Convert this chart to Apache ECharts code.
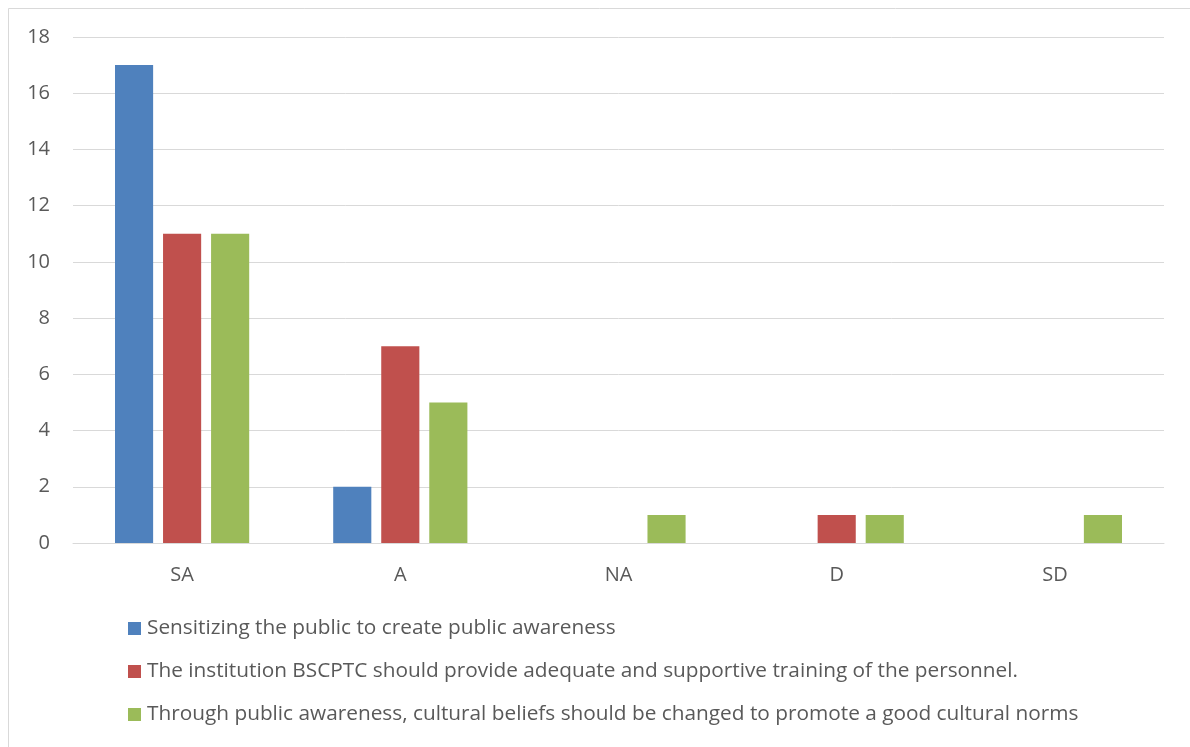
<!DOCTYPE html>
<html>
<head>
<meta charset="utf-8">
<script src="https://cdn.jsdelivr.net/npm/echarts@6/dist/echarts.min.js"></script>
<style>
  html, body { margin: 0; padding: 0; background: #fff; }
  #chart { width: 1190px; height: 747px; }
</style>
</head>
<body>
<div id="chart"></div>
<script>
// Response categories (Strongly Agree ... Strongly Disagree)
const categories = ['SA', 'A', 'NA', 'D', 'SD'];

const seriesNames = [
  'Sensitizing the public to create public awareness',
  'The institution BSCPTC should provide adequate and supportive training of the personnel.',
  'Through public awareness, cultural beliefs should be changed to promote a good cultural norms'
];

const sensitizing = [17, 2, 0, 0, 0];
const training = [11, 7, 0, 1, 0];
const culturalBeliefs = [11, 5, 1, 1, 1];

const yTicks = { min: 0, max: 18, interval: 2 };

const colors = ['#4f81bd', '#c0504d', '#9bbb59'];
const font = 'Open Sans, Noto Sans, sans-serif';
const textColor = '#595959';

const chart = echarts.init(document.getElementById('chart'));

const values = [sensitizing, training, culturalBeliefs];

chart.setOption({
  animation: false,
  backgroundColor: '#ffffff',
  color: colors,
  graphic: [{
    type: 'rect',
    shape: { x: 8.5, y: 8.5, width: 1200, height: 800 },
    style: { fill: 'none', stroke: '#d9d9d9', lineWidth: 1 },
    silent: true
  }],
  grid: { left: 73, right: 26, top: 37, bottom: 204, containLabel: false },
  legend: {
    orient: 'vertical',
    left: 123,
    top: 613,
    itemWidth: 13,
    itemHeight: 13,
    itemGap: 22,
    icon: 'rect',
    textStyle: {
      fontFamily: font, fontSize: 20.8, lineHeight: 21, color: textColor,
      padding: [0, 0, 0, 1]
    },
    data: seriesNames
  },
  xAxis: {
    type: 'category',
    data: categories,
    axisLine: { lineStyle: { color: '#d9d9d9', width: 1 } },
    axisTick: { show: false },
    axisLabel: { fontFamily: font, fontSize: 20, color: textColor, margin: 22 }
  },
  yAxis: {
    type: 'value',
    min: yTicks.min,
    max: yTicks.max,
    interval: yTicks.interval,
    axisLine: { show: false },
    axisTick: { show: false },
    splitLine: { lineStyle: { color: '#d9d9d9', width: 1 } },
    axisLabel: { fontFamily: font, fontSize: 20, color: textColor, margin: 23 }
  },
  series: seriesNames.map((name, i) => ({
    name,
    type: 'bar',
    data: values[i],
    barGap: '26%',
    barCategoryGap: '38.5%',
    itemStyle: { color: colors[i] }
  }))
});
</script>
</body>
</html>
